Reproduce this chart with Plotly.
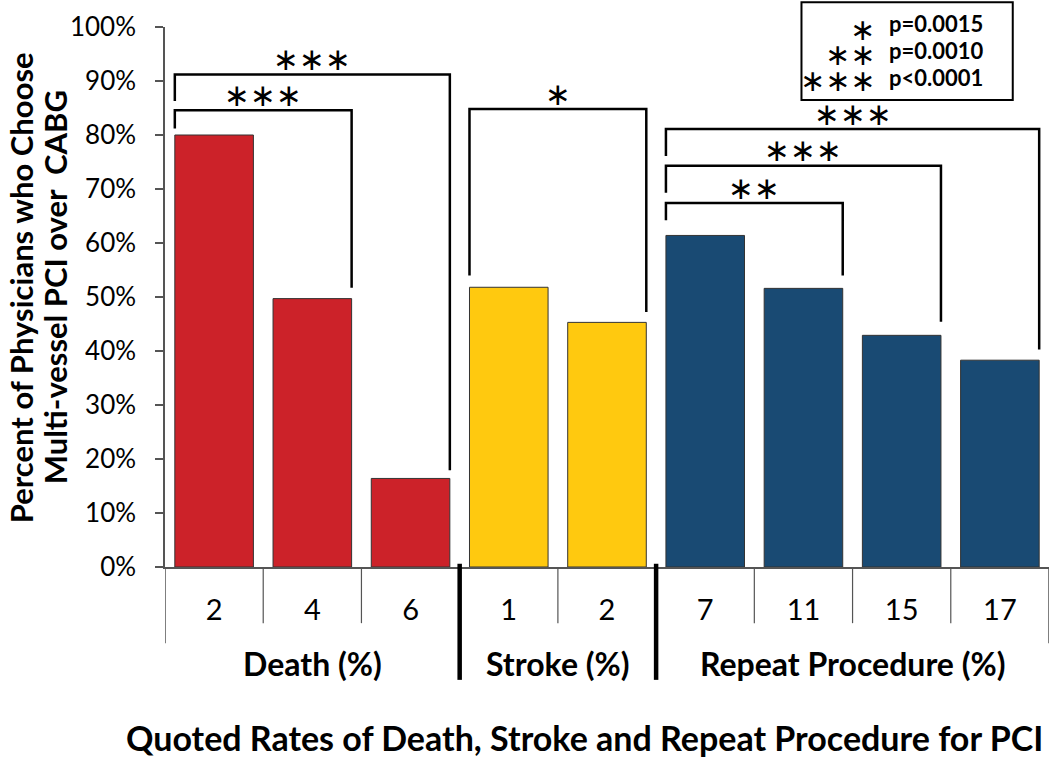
import plotly.graph_objects as go

# ---- data ----
categories = ["2", "4", "6", "1", "2", "7", "11", "15", "17"]
groups = ["Death (%)", "Stroke (%)", "Repeat Procedure (%)"]
group_sizes = [3, 2, 4]
values = [0.80, 0.497, 0.164, 0.518, 0.453, 0.614, 0.516, 0.429, 0.383]
group_colors = ["#CC2229", "#FFC90F", "#194A73"]
# significance brackets: (left bar, right bar, stars)
bracket_pairs = [(0, 1), (0, 2), (3, 4), (5, 6), (5, 7), (5, 8)]
bracket_stars = ["***", "***", "*", "**", "***", "***"]
legend_stars = ["*", "**", "***"]
legend_pvals = ["p=0.0015", "p=0.0010", "p<0.0001"]

# ---- style / layout parameters ----
bracket_levels = [0.846, 0.912, 0.848, 0.674, 0.743, 0.811]
bracket_left_drop = [0.034, 0.049, 0.308, 0.032, 0.050, 0.050]
bracket_right_gap = [0.02, 0.015, 0.019, 0.024, 0.025, 0.02]
BAR_HALF = 0.4
FONT = "Lato"
STAR_FONT = "DejaVu Sans"
STAR_CHAR = "\u2217"

colors = []
for g, n in enumerate(group_sizes):
    colors += [group_colors[g]] * n

x = list(range(len(categories)))

fig = go.Figure()
fig.add_trace(go.Bar(
    x=x, y=values, width=2 * BAR_HALF,
    marker=dict(color=colors, line=dict(color="#333333", width=1)),
    hoverinfo="skip", showlegend=False,
))

shapes = []
annotations = []


def stars(s):
    return STAR_CHAR * len(s)


# brackets
for k, (i, j) in enumerate(bracket_pairs):
    lvl = bracket_levels[k]
    xl = x[i] - BAR_HALF
    xr = x[j] + BAR_HALF
    yl = lvl - bracket_left_drop[k]
    yr = values[j] + bracket_right_gap[k]
    shapes.append(dict(
        type="path", xref="x", yref="y",
        path=f"M {xl},{yl} L {xl},{lvl} L {xr},{lvl} L {xr},{yr}",
        line=dict(color="black", width=2.5),
    ))
    annotations.append(dict(
        x=(xl + xr) / 2, y=lvl + 0.0287, xref="x", yref="y", text=stars(bracket_stars[k]),
        showarrow=False, xanchor="center", yanchor="middle",
        font=dict(family=STAR_FONT, size=31, color="black"),
    ))

# separators under the x axis
bounds = []
start = 0
for n in group_sizes:
    bounds.append((start, start + n - 1))
    start += n
group_edges = [b[1] + 0.5 for b in bounds[:-1]]
for k in range(len(categories) - 1):
    xb = k + 0.5
    if xb in group_edges:
        shapes.append(dict(type="line", xref="x", yref="paper", x0=xb, x1=xb,
                           y0=0.006, y1=-0.209, line=dict(color="black", width=4.5)))
    else:
        shapes.append(dict(type="line", xref="x", yref="paper", x0=xb, x1=xb,
                           y0=0, y1=-0.104, line=dict(color="#555555", width=1.2)))
for xb in (-0.5, len(categories) - 0.5):
    shapes.append(dict(type="line", xref="x", yref="paper", x0=xb, x1=xb,
                       y0=0, y1=-0.141, line=dict(color="#555555", width=1.5)))

# group labels
for g, (a, b) in enumerate(bounds):
    annotations.append(dict(
        x=(a + b) / 2, y=-0.178, xref="x", yref="paper", text=f"<b>{groups[g]}</b>",
        showarrow=False, yanchor="middle",
        font=dict(family=FONT, size=32, color="black"),
    ))

# axis titles
annotations.append(dict(
    x=0.475, y=-0.316, xref="paper", yref="paper",
    text="<b>Quoted Rates of Death, Stroke and Repeat Procedure for PCI</b>",
    showarrow=False, yanchor="middle", font=dict(family=FONT, size=34, color="black"),
))
ytitle_lines = ["Percent of Physicians who Choose", "Multi-vessel PCI over  CABG"]
ytitle_x = [-0.1635, -0.1250]
for t, xx in zip(ytitle_lines, ytitle_x):
    annotations.append(dict(
        x=xx, y=0.517, xref="paper", yref="paper", textangle=-90,
        text=f"<b>{t}</b>", showarrow=False, xanchor="center", yanchor="middle",
        font=dict(family=FONT, size=31, color="black"),
    ))

# legend box
shapes.append(dict(type="rect", xref="paper", yref="paper", x0=0.720, x1=0.959,
                   y0=0.865, y1=1.046, line=dict(color="black", width=2),
                   fillcolor="white", layer="above"))
leg_star_y = [0.996, 0.950, 0.900]
leg_text_y = [1.007, 0.957, 0.907]
for k in range(3):
    annotations.append(dict(
        x=0.8054, y=leg_star_y[k], xref="paper", yref="paper",
        text=stars(legend_stars[k]), showarrow=False,
        xanchor="right", yanchor="middle",
        font=dict(family=STAR_FONT, size=30, color="black"),
    ))
    annotations.append(dict(
        x=0.8167, y=leg_text_y[k], xref="paper", yref="paper",
        text=f"<b>{legend_pvals[k]}</b>", showarrow=False,
        xanchor="left", yanchor="middle",
        font=dict(family=FONT, size=22, color="black"),
    ))

fig.update_layout(
    width=1050, height=757,
    margin=dict(l=165, r=1, t=27, b=190),
    plot_bgcolor="white", paper_bgcolor="white",
    shapes=shapes, annotations=annotations,
    bargap=0.2,
    font=dict(family=FONT, color="black"),
)
fig.update_xaxes(
    range=[-0.5, len(categories) - 0.5], tickvals=x, ticktext=categories,
    showline=True, linecolor="#555555", linewidth=1.5, ticks="",
    showgrid=False, zeroline=False, ticklabelstandoff=16,
    tickfont=dict(family=FONT, size=29, color="black"),
)
fig.update_yaxes(
    range=[0, 1.0], dtick=0.1, tickformat=".0%",
    showline=True, linecolor="#555555", linewidth=1.5,
    ticks="outside", ticklen=8, tickcolor="#555555", tickwidth=1.5,
    showgrid=False, zeroline=False, ticklabelstandoff=14,
    tickfont=dict(family=FONT, size=26, color="black"),
)

fig.write_html("out.html", config={"displayModeBar": False},
               post_script="document.body.style.margin='0';")
